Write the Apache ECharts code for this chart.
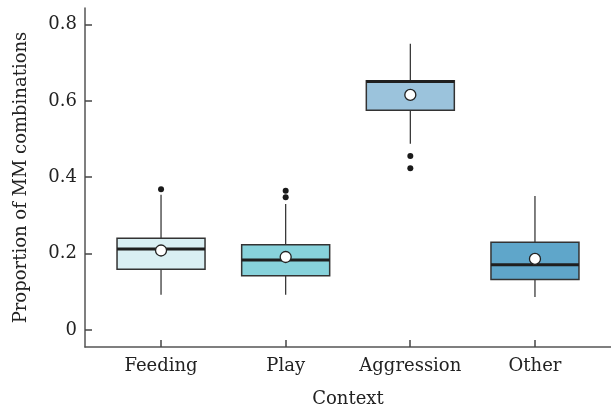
<!DOCTYPE html>
<html>
<head>
<meta charset="utf-8">
<script src="https://cdn.jsdelivr.net/npm/echarts@6/dist/echarts.min.js"></script>
<style>
  html, body { margin: 0; padding: 0; background: #fff; }
  #chart { width: 611px; height: 415px; }
</style>
</head>
<body>
<div id="chart"></div>
<script>
// Proportion of MM combinations by behavioural context
const categories = ['Feeding', 'Play', 'Aggression', 'Other'];
const whiskerLow  = [0.092, 0.092, 0.488, 0.086];
const quartile1   = [0.159, 0.142, 0.576, 0.132];
const medians     = [0.212, 0.183, 0.651, 0.171];
const quartile3   = [0.240, 0.223, 0.653, 0.230];
const whiskerHigh = [0.354, 0.330, 0.750, 0.351];
const means       = [0.208, 0.191, 0.616, 0.186];
// outliers as [category index, value]
const outliers = [
  [0, 0.369],
  [1, 0.348], [1, 0.365],
  [2, 0.456], [2, 0.424]
];
const yTicks = [0, 0.2, 0.4, 0.6, 0.8];

const fills = ['#d9eff3', '#87d2db', '#9bc3dc', '#5fa6ca'];
const FONT = 'DejaVu Serif';
const TEXT = '#222';
const AXIS = '#555';
const X_MIN = 0.39, X_MAX = 4.61, Y_MIN = -0.045, Y_MAX = 0.844;

const boxData = categories.map((c, i) => [i + 1, whiskerLow[i], quartile1[i], medians[i], quartile3[i], whiskerHigh[i]]);
const meanData = categories.map((c, i) => [i + 1, means[i]]);
const outlierData = outliers.map(o => [o[0] + 1, o[1]]);
// tick anchors: y-axis ticks sit on the left edge, x-axis ticks on the bottom edge
const yTickData = yTicks.map(v => [X_MIN + 0.0001, v]);
const xTickData = categories.map((c, i) => [i + 1, Y_MIN + 0.0001]);

// short inward tick marks drawn through the axes' scales, as thin filled bars
function tickSeries(data, vertical) {
  return {
    type: 'custom',
    data: data,
    encode: { x: 0, y: 1 },
    silent: true,
    clip: false,
    z: 10,
    renderItem: function (params, api) {
      const p = api.coord([api.value(0), api.value(1)]);
      const shape = vertical
        ? { x: Math.round(p[0]) - 0.75, y: p[1] - 7, width: 1.5, height: 7 }
        : { x: p[0], y: Math.round(p[1]) - 0.75, width: 7, height: 1.5 };
      return {
        type: 'group',
        children: [{ type: 'rect', shape: shape, style: { fill: '#444444' } }]
      };
    }
  };
}

const chart = echarts.init(document.getElementById('chart'), null, { renderer: 'canvas' });

chart.setOption({
  animation: false,
  grid: { left: 85, right: 0, top: 8, bottom: 68 },
  xAxis: {
    type: 'value',
    min: X_MIN,
    max: X_MAX,
    name: 'Context',
    nameLocation: 'middle',
    nameGap: 43,
    nameTextStyle: { fontFamily: FONT, fontSize: 18, color: TEXT },
    axisLine: { show: true, onZero: false, lineStyle: { color: AXIS, width: 1.5 } },
    axisTick: { show: false },
    axisLabel: {
      customValues: [1, 2, 3, 4],
      formatter: v => categories[Math.round(v) - 1] || '',
      fontFamily: FONT, fontSize: 18, color: TEXT, margin: 10
    },
    splitLine: { show: false }
  },
  yAxis: {
    type: 'value',
    min: Y_MIN,
    max: Y_MAX,
    name: 'Proportion of MM combinations',
    nameLocation: 'middle',
    nameRotate: 90,
    nameGap: 55,
    nameTextStyle: { fontFamily: FONT, fontSize: 18, color: TEXT },
    axisLine: { show: true, onZero: false, lineStyle: { color: AXIS, width: 1.5 } },
    axisTick: { show: false },
    axisLabel: {
      customValues: yTicks,
      formatter: v => (Math.abs(v) < 1e-9 ? '0' : v.toFixed(1)),
      fontFamily: FONT, fontSize: 18, color: TEXT, margin: 8
    },
    splitLine: { show: false }
  },
  series: [
    {
      type: 'custom',
      data: boxData,
      encode: { x: 0, y: [1, 2, 3, 4, 5] },
      renderItem: function (params, api) {
        const x = api.value(0);
        const half = 0.353;
        const pLow = api.coord([x, api.value(1)]);
        const pQ1 = api.coord([x, api.value(2)]);
        const pMed = api.coord([x, api.value(3)]);
        const pQ3 = api.coord([x, api.value(4)]);
        const pHigh = api.coord([x, api.value(5)]);
        const left = api.coord([x - half, api.value(2)])[0];
        const right = api.coord([x + half, api.value(2)])[0];
        const stroke = { stroke: '#2b2b2b', lineWidth: 1.2 };
        return {
          type: 'group',
          children: [
            { type: 'line', shape: { x1: pHigh[0], y1: pHigh[1], x2: pQ3[0], y2: pQ3[1] }, style: stroke },
            { type: 'line', shape: { x1: pQ1[0], y1: pQ1[1], x2: pLow[0], y2: pLow[1] }, style: stroke },
            {
              type: 'rect',
              shape: { x: left, y: pQ3[1], width: right - left, height: pQ1[1] - pQ3[1] },
              style: { fill: fills[params.dataIndex], stroke: '#333', lineWidth: 1.5 }
            },
            { type: 'line', shape: { x1: left, y1: pMed[1], x2: right, y2: pMed[1] }, style: { stroke: '#1f1f1f', lineWidth: 3 } }
          ]
        };
      },
      z: 2
    },
    {
      type: 'scatter',
      data: meanData,
      symbol: 'circle',
      symbolSize: 11,
      itemStyle: { color: '#fff', borderColor: '#222', borderWidth: 1.3, opacity: 1 },
      z: 3
    },
    {
      type: 'scatter',
      data: outlierData,
      symbol: 'circle',
      symbolSize: 6,
      itemStyle: { color: '#1a1a1a', opacity: 1 },
      z: 3
    },
    tickSeries(yTickData, false),
    tickSeries(xTickData, true)
  ]
});
</script>
</body>
</html>
